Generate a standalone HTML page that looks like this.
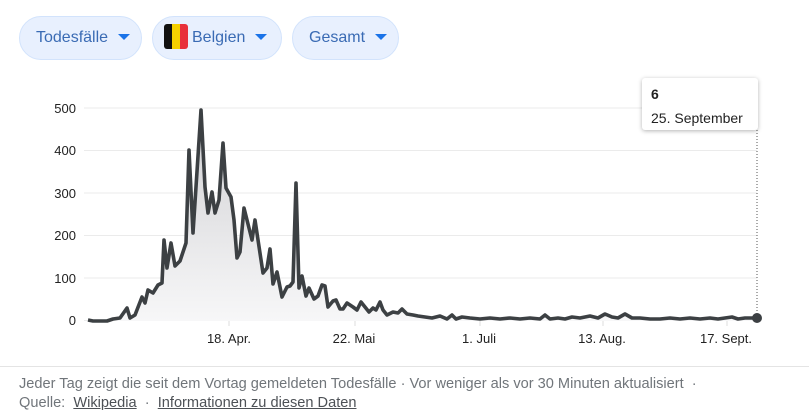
<!DOCTYPE html>
<html><head><meta charset="utf-8"><style>
body{margin:0;width:809px;height:419px;background:#fff;font-family:"Liberation Sans",Arial,sans-serif;position:relative;overflow:hidden}
.chip{position:absolute;top:16px;height:44px;border-radius:22px;background:#e8f0fe;border:1px solid #d2e3fc;box-sizing:border-box;font-size:16px;line-height:42px;color:#3a6bb4}
.chip .tri{display:inline-block;width:0;height:0;border-left:6px solid transparent;border-right:6px solid transparent;border-top:6px solid #1a73e8;vertical-align:middle;margin-left:10px;margin-top:-2px}
.foot{position:absolute;left:19px;font-size:14.6px;color:#70757a}
.foot a{color:#4d5156;text-decoration:underline}
.tip{position:absolute;left:642px;top:78px;width:116px;height:52px;background:#fff;border-radius:3px;box-shadow:0 1px 4px rgba(0,0,0,.3);font-size:14px;color:#222;box-sizing:border-box;padding:8px 9px}
</style></head><body>
<div class="chip" style="left:19px;width:123px;padding-left:16px">Todesfälle<span class="tri"></span></div>
<div class="chip" style="left:152px;width:130px;padding-left:11px"><span style="display:inline-block;width:8px;height:25px;background:#111;vertical-align:middle;margin-top:-3px;border-radius:3px 0 0 3px"></span><span style="display:inline-block;width:8px;height:25px;background:#f5d000;vertical-align:middle;margin-top:-3px"></span><span style="display:inline-block;width:8px;height:25px;background:#e8303b;vertical-align:middle;margin-top:-3px;margin-right:4px;border-radius:0 3px 3px 0"></span>Belgien<span class="tri"></span></div>
<div class="chip" style="left:292px;width:107px;padding-left:16px">Gesamt<span class="tri"></span></div>

<svg width="809" height="419" style="position:absolute;left:0;top:0" xmlns="http://www.w3.org/2000/svg">
<defs><linearGradient id="g" x1="0" y1="0" x2="0" y2="1"><stop offset="0" stop-color="#d0d0d3"/><stop offset="1" stop-color="#f7f7f8"/></linearGradient></defs>
<g stroke="#ebebeb" stroke-width="1">
<line x1="84" x2="757" y1="108" y2="108"/><line x1="84" x2="757" y1="150.5" y2="150.5"/><line x1="84" x2="757" y1="193" y2="193"/><line x1="84" x2="757" y1="235.5" y2="235.5"/><line x1="84" x2="757" y1="278" y2="278"/><line x1="84" x2="757" y1="320.5" y2="320.5"/>
</g>
<g font-size="13" fill="#222" text-anchor="end" font-family="Liberation Sans,Arial,sans-serif">
<text x="76" y="113">500</text><text x="76" y="155">400</text><text x="76" y="198">300</text><text x="76" y="240">200</text><text x="76" y="283">100</text><text x="76" y="325">0</text>
</g>
<g stroke="#ddd"><line x1="229" x2="229" y1="321" y2="326"/><line x1="355" x2="355" y1="321" y2="326"/><line x1="480" x2="480" y1="321" y2="326"/><line x1="603" x2="603" y1="321" y2="326"/><line x1="727" x2="727" y1="321" y2="326"/></g>
<g font-size="13" fill="#222" text-anchor="middle" font-family="Liberation Sans,Arial,sans-serif">
<text x="229" y="343">18. Apr.</text><text x="354" y="343">22. Mai</text><text x="479" y="343">1. Juli</text><text x="602" y="343">13. Aug.</text><text x="726" y="343">17. Sept.</text>
</g>
<path fill="url(#g)" d="M88,320 93,321 107,321 113,319 120,318 127,308 130,318 135,315 142,297 145,303 148,290 153,293 158,285 162,283 164,240 167,268 171,243 175,266 180,261 186,243 189,150 193,233 201,110 205,187 208,213 212,192 215,213 219,200 223,143 226,188 231,197 234,220 237,258 240,252 244,208 252,240 255,220 263,273 267,268 270,249 273,284 277,272 282,297 287,287 290,286 293,282 296,183 299,288 302,276 306,296 309,288 314,299 318,296 322,285 325,286 328,307 333,301 336,300 340,309 343,309 347,303 353,307 357,310 361,302 365,307 369,312 373,308 376,310 380,302 383,310 387,315 393,312 398,313 402,309 407,314 413,315 418,316 757,318 757,321 88,321Z"/>
<polyline fill="none" stroke="#3c4043" stroke-width="3.6" stroke-linejoin="round" points="88,320 93,321 107,321 113,319 120,318 127,308 130,318 135,315 142,297 145,303 148,290 153,293 158,285 162,283 164,240 167,268 171,243 175,266 180,261 186,243 189,150 193,233 201,110 205,187 208,213 212,192 215,213 219,200 223,143 226,188 231,197 234,220 237,258 240,252 244,208 252,240 255,220 263,273 267,268 270,249 273,284 277,272 282,297 287,287 290,286 293,282 296,183 299,288 302,276 306,296 309,288 314,299 318,296 322,285 325,286 328,307 333,301 336,300 340,309 343,309 347,303 353,307 357,310 361,302 365,307 369,312 373,308 376,310 380,302 383,310 387,315 393,312 398,313 402,309 407,314 413,315 418,316 425,317 432,318 440,316 447,319 452,315 456,319 462,317 470,318 480,319 490,318 500,319 510,318 520,319 530,318 540,319 545,315 550,319 558,318 565,319 572,317 580,318 590,316 598,318 605,314 612,317 618,318 625,314 632,318 640,318 650,319 660,319 670,318 680,319 690,318 700,319 710,318 718,319 725,318 732,317 738,319 745,318 750,318 757,318"/>
<line x1="757" x2="757" y1="130" y2="318" stroke="#555" stroke-dasharray="1,2"/>
<circle cx="757" cy="318" r="5" fill="#3c4043"/>
<line x1="0" x2="809" y1="366.5" y2="366.5" stroke="#e4e4e4"/>
</svg>
<div class="tip"><b>6</b><div style="margin-top:8px">25. September</div></div>
<div class="foot" style="top:376px">Jeder Tag zeigt die seit dem Vortag gemeldeten Todesfälle · Vor weniger als vor 30 Minuten aktualisiert &nbsp;·</div>
<div class="foot" style="top:395px">Quelle: &nbsp;<a>Wikipedia</a> &nbsp;·&nbsp; <a>Informationen zu diesen Daten</a></div>
</body></html>
